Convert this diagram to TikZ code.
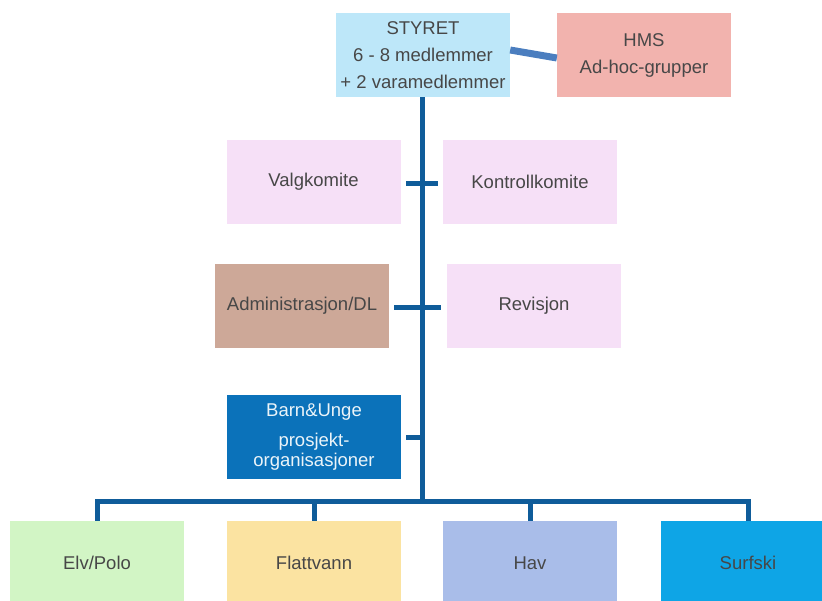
\documentclass[tikz,border=0pt]{standalone}
\usepackage{fontspec}
\setmainfont{Liberation Sans}
\definecolor{cStyret}{HTML}{BDE7F9}
\definecolor{cHms}{HTML}{F2B3AE}
\definecolor{cPink}{HTML}{F6E0F7}
\definecolor{cAdmin}{HTML}{CDA898}
\definecolor{cBarn}{HTML}{0B72BA}
\definecolor{cElv}{HTML}{D2F5C5}
\definecolor{cFlatt}{HTML}{FBE3A1}
\definecolor{cHav}{HTML}{A9BDE9}
\definecolor{cSurf}{HTML}{0EA5E6}
\definecolor{cTrunk}{HTML}{0F5C9A}
\definecolor{cHmsLine}{HTML}{4B7EBF}
\definecolor{cText}{HTML}{474747}
\begin{document}
\begin{tikzpicture}[x=1pt,y=-1pt,
  orgbox/.style={minimum width=174pt,minimum height=84pt,inner sep=0pt,align=center,
    text=cText,font=\fontsize{18.5}{27}\selectfont},
  trunk/.style={draw=cTrunk,line width=5pt},
]
\useasboundingbox (0,0) rectangle (822,600);
% top
\node[orgbox,fill=cStyret] (styret) at (423,55) {STYRET\\6 - 8 medlemmer\\+ 2 varamedlemmer};
\node[orgbox,fill=cHms] (hms) at (644,55) {HMS\\Ad-hoc-grupper};
\draw[draw=cHmsLine,line width=7pt] (styret.east |- 0,50) -- (hms.west |- 0,58);
% middle
\node[orgbox,fill=cPink] (valg) at (313.5,181.5) {Valgkomite};
\node[orgbox,fill=cPink] (kontroll) at (530,181.5) {Kontrollkomite};
\node[orgbox,fill=cAdmin] (admin) at (302,306) {Administrasjon/DL};
\node[orgbox,fill=cPink] (revisjon) at (534,306) {Revisjon};
\node[orgbox,fill=cBarn,text=white!92!cBarn] (barn) at (314,437) {};
\node[text=white!92!cBarn,font=\fontsize{18.5}{20}\selectfont,align=center,inner sep=0pt] (barntxt) at (314,412) {Barn\&Unge};
\node[text=white!92!cBarn,font=\fontsize{18.5}{20}\selectfont,align=center,inner sep=0pt] (barntxt2) at (314,452) {prosjekt-\\organisasjoner};
% bottom
\node[orgbox,fill=cElv] (elv) at (97,563) {Elv/Polo};
\node[orgbox,fill=cFlatt] (flatt) at (314,563) {Flattvann};
\node[orgbox,fill=cHav] (hav) at (530,563) {Hav};
\node[orgbox,fill=cSurf] (surf) at (748,563) {Surfski};
% connectors
\coordinate (bus) at (422,501);
\coordinate (cr1l) at (406,183);
\coordinate (cr1r) at (438,183);
\coordinate (cr2l) at (394,307);
\coordinate (cr2r) at (441,307);
\draw[trunk] (styret.south -| bus) -- (bus);
\draw[trunk] (cr1l) -- (cr1r);
\draw[trunk] (cr2l) -- (cr2r);
\draw[trunk] (406,437) -- (bus |- barn);
\draw[trunk] (elv.north) |- (surf.north |- bus) -- (surf.north);
\draw[trunk] (flatt.north) -- (flatt.north |- bus);
\draw[trunk] (hav.north) -- (hav.north |- bus);
\end{tikzpicture}
\end{document}
